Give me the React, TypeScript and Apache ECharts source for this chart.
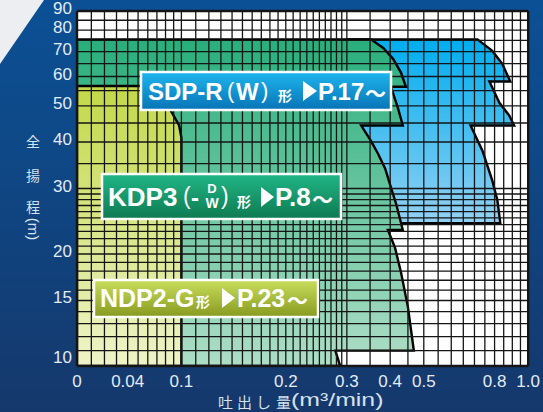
import React, { useEffect, useRef } from 'react';
import * as echarts from 'echarts';

// ---- axis ticks (labels) ----
const xTickValues = [0, 0.04, 0.1, 0.2, 0.3, 0.4, 0.5, 0.8, 1.0];
const xTickLabels = ['0', '0.04', '0.1', '0.2', '0.3', '0.4', '0.5', '0.8', '1.0'];
const yTickValues = [10, 15, 20, 30, 40, 50, 60, 70, 80, 90];

// ---- chart-paper grid lines ----
const xGridValues = [
  0, 0.01, 0.02, 0.03, 0.04, 0.05, 0.06, 0.07, 0.08, 0.09,
  0.1, 0.11, 0.12, 0.13, 0.14, 0.15, 0.16, 0.17, 0.18, 0.19,
  0.2, 0.21, 0.22, 0.23, 0.24, 0.25, 0.26, 0.27, 0.28, 0.29,
  0.3, 0.35, 0.4, 0.45, 0.5, 0.55, 0.6, 0.65, 0.7, 0.75, 0.8, 0.85, 0.9, 0.95, 1.0,
];
const yGridValues = [
  10, 11, 12, 13, 14, 15, 16, 17, 18, 19, 20, 21, 22, 23, 24, 25, 26, 27, 28, 29, 30,
  35, 40, 45, 50, 55, 60, 65, 70, 75, 80, 85, 90,
];

// ---- performance ranges (flow m3/min, head m) ----
const sdpFlow = [0.30, 0.714, 0.788, 0.842, 0.888, 0.773, 0.826, 0.882, 0.911, 0.682, 0.738, 0.788, 0.815, 0.831, 0.30];
const sdpHead = [75.5, 75.5, 70.3, 64.9, 58.2, 58.2, 51.0, 47.1, 44.3, 44.3, 37.9, 31.5, 27.9, 24.2, 24.2];

const kdpFlow = [0, 0.352, 0.382, 0.408, 0.430, 0.444, 0.402, 0.421, 0.435, 0.330, 0.352, 0.369, 0.387, 0.402, 0.416, 0.435, 0.394, 0.413, 0.430, 0.450, 0.468, 0.278, 0.287, 0];
const kdpHead = [75.5, 75.5, 71.6, 66.9, 61.4, 56.3, 56.3, 49.4, 44.3, 44.3, 40.3, 37.2, 33.9, 30.2, 27.3, 23.2, 23.2, 20.8, 17.8, 14.4, 11.0, 11.0, 10, 10];

const ndpFlow = [0, 0.067, 0.075, 0.085, 0.097, 0.1, 0.1, 0];
const ndpHead = [56.6, 56.6, 53.2, 49.2, 44.3, 41.1, 10, 10];

// ---- scale of the chart paper ----
function toX(q: number) {
  return q >= 0.1 ? Math.log10(q * 10) : Math.log10((q + 0.1) / 0.2);
}
function toY(h: number) {
  return Math.log10(h);
}
const X_MIN = toX(0);
const X_MAX = toX(1.0);
const Y_MIN = toY(10);
const Y_MAX = toY(90);

const regions = [
  { flow: sdpFlow, head: sdpHead, top: '#00ADEE', bottom: '#92D1F3' },
  { flow: kdpFlow, head: kdpHead, top: '#28AE7C', bottom: '#AEDEC6' },
  { flow: ndpFlow, head: ndpHead, top: '#C3D848', bottom: '#EFF4C8' },
];

const LATIN = '"Liberation Sans", Arial, "Noto Sans CJK JP", sans-serif';
const CJK = '"Noto Sans CJK JP", "Liberation Sans", sans-serif';

function grad(a: string, b: string) {
  return { type: 'linear', x: 0, y: 0, x2: 0, y2: 1, colorStops: [{ offset: 0, color: a }, { offset: 1, color: b }] };
}

function t(text: string, x: number, y: number, font: string, extra: any = {}) {
  return {
    type: 'text', x, y, z: 100, silent: true,
    style: { text, fill: '#ffffff', font, align: 'left', verticalAlign: 'middle', ...(extra.style || {}) },
    ...(extra.el || {}),
  };
}

function tri(x: number, cy: number, w: number, h: number) {
  return {
    type: 'polygon', z: 100, silent: true,
    shape: { points: [[x, cy - h / 2], [x + w, cy], [x, cy + h / 2]] },
    style: { fill: '#ffffff' },
  };
}

function box(x: number, y: number, w: number, h: number, a: string, b: string) {
  return {
    type: 'rect', z: 99, silent: true,
    shape: { x, y, width: w, height: h },
    style: { fill: grad(a, b), stroke: '#ffffff', lineWidth: 2.5 },
  };
}

const axisText = '#E3EBF5';
const titleText = '#D6E1EE';

const option: any = {
  animation: false,
  grid: { left: 77, right: 12, top: 10, bottom: 46, show: true, backgroundColor: '#ffffff', borderWidth: 0 },
  xAxis: {
    type: 'value', min: X_MIN, max: X_MAX,
    axisLine: { show: false }, axisTick: { show: false }, splitLine: { show: false },
    axisLabel: {
      customValues: xTickValues.map(toX),
      formatter: (v: number) => {
        let best = 0;
        for (let i = 0; i < xTickValues.length; i++) {
          if (Math.abs(toX(xTickValues[i]) - v) < Math.abs(toX(xTickValues[best]) - v)) best = i;
        }
        return xTickLabels[best];
      },
      color: axisText, fontSize: 17, fontFamily: LATIN, margin: 7,
    },
  },
  yAxis: {
    type: 'value', min: Y_MIN, max: Y_MAX,
    axisLine: { show: false }, axisTick: { show: false }, splitLine: { show: false },
    axisLabel: {
      customValues: yTickValues.map(toY),
      formatter: (v: number) => {
        const n = Math.round(Math.pow(10, v));
        return n === 10 ? '{lo|10}' : String(n);
      },
      rich: { lo: { fontSize: 17, fontFamily: LATIN, color: axisText, padding: [0, 0, 12, 0] } },
      color: axisText, fontSize: 17, fontFamily: LATIN, margin: 5, padding: [0, 0, 5, 0],
    },
  },
  series: [
    {
      type: 'custom', name: 'ranges', z: 2, silent: true, clip: true,
      data: regions.map(() => [X_MIN, Y_MIN]),
      renderItem: (params: any, api: any) => {
        const r = regions[params.dataIndex];
        const points = r.flow.map((q, i) => api.coord([toX(q), toY(r.head[i])]));
        return {
          type: 'polygon',
          shape: { points },
          style: { fill: grad(r.top, r.bottom), stroke: '#000000', lineWidth: 2.4, lineJoin: 'miter' },
        };
      },
    },
    {
      type: 'custom', name: 'paper', z: 3, silent: true,
      data: [
        ...xGridValues.map((v) => [toX(v), Y_MIN]),
        ...yGridValues.map((v) => [X_MIN, toY(v)]),
      ],
      renderItem: (params: any, api: any) => {
        const cs = params.coordSys;
        const i = params.dataIndex;
        if (i < xGridValues.length) {
          const v = xGridValues[i];
          const px = api.coord([toX(v), Y_MIN])[0];
          const edge = i === 0 || i === xGridValues.length - 1;
          return {
            type: 'line',
            shape: { x1: px, y1: cs.y, x2: px, y2: cs.y + cs.height },
            style: { stroke: '#151515', lineWidth: edge ? 2.4 : 1.3 },
          };
        }
        const j = i - xGridValues.length;
        const v = yGridValues[j];
        const py = api.coord([X_MIN, toY(v)])[1];
        const edge = j === 0 || j === yGridValues.length - 1;
        return {
          type: 'line',
          shape: { x1: cs.x, y1: py, x2: cs.x + cs.width, y2: py },
          style: { stroke: '#151515', lineWidth: edge ? 2.4 : 1.3 },
        };
      },
    },
  ],
  graphic: [
    // light corner
    { type: 'polygon', z: -10, silent: true, shape: { points: [[0, 0], [44, 0], [0, 64]] }, style: { fill: '#ECEEF1' } },

    // SDP-R box
    box(141, 72, 250, 38, '#1DB5EE', '#0874B6'),
    t('SDP-R', 148, 91, `bold 24px ${LATIN}`),
    t('(', 227, 90, `22px ${LATIN}`),
    t('W', 236, 91, `bold 24px ${LATIN}`),
    t(')', 261, 90, `22px ${LATIN}`),
    t('形', 278, 95, `bold 14px ${CJK}`),
    tri(303, 91, 14, 20),
    t('P.17', 318, 91, `bold 24px ${LATIN}`),
    t('〜', 365, 92, `bold 21px ${CJK}`),

    // KDP3 box
    box(102, 174, 239, 45, '#21B686', '#0E7A52'),
    t('KDP3', 108, 197, `bold 26px ${LATIN}`),
    t('(', 183, 196, `23px ${LATIN}`),
    t('-', 191, 197, `bold 24px ${LATIN}`),
    t('D', 212, 188, `bold 13px ${LATIN}`, { style: { align: 'center' } }),
    t('W', 212, 203, `bold 14px ${LATIN}`, { style: { align: 'center' } }),
    t(')', 221, 196, `23px ${LATIN}`),
    t('形', 237, 201, `bold 14px ${CJK}`),
    tri(261, 197, 13, 20),
    t('P.8', 275, 197, `bold 26px ${LATIN}`),
    t('〜', 312, 198, `bold 21px ${CJK}`),

    // NDP2-G box
    box(94, 280, 224, 37, '#C9DE5C', '#879A20'),
    t('NDP2-G', 100, 298, `bold 25px ${LATIN}`),
    t('形', 196, 301, `bold 14px ${CJK}`),
    tri(222, 298, 13, 20),
    t('P.23', 237, 298, `bold 25px ${LATIN}`),
    t('〜', 287, 299, `bold 21px ${CJK}`),

    // y axis title
    t('全', 33, 141, `14px ${CJK}`, { style: { align: 'center', fill: titleText } }),
    t('揚', 33, 175, `14px ${CJK}`, { style: { align: 'center', fill: titleText } }),
    t('程', 33, 206, `14px ${CJK}`, { style: { align: 'center', fill: titleText } }),
    t('(m)', 33, 229, `15px ${LATIN}`, { style: { align: 'center', fill: titleText }, el: { rotation: -Math.PI / 2 } }),

    // x axis title
    t('吐', 218, 401, `15px ${CJK}`, { style: { fill: titleText } }),
    t('出', 237, 401, `15px ${CJK}`, { style: { fill: titleText } }),
    t('し', 256, 401, `15px ${CJK}`, { style: { fill: titleText } }),
    t('量', 276, 401, `15px ${CJK}`, { style: { fill: titleText } }),
    t('(m³/min)', 291, 400, `18px ${LATIN}`, { style: { fill: titleText }, el: { scaleX: 1.38 } }),
  ],
};

export default function App() {
  const ref = useRef<HTMLDivElement>(null);
  useEffect(() => {
    document.body.style.margin = '0';
    const chart = echarts.init(ref.current as HTMLDivElement, null, { renderer: 'svg', width: 543, height: 412 });
    chart.setOption(option);
    return () => chart.dispose();
  }, []);
  return (
    <div
      ref={ref}
      style={{
        width: 543,
        height: 412,
        background: 'linear-gradient(180deg, #0B5095 0%, #0F4683 45%, #15386C 100%)',
      }}
    />
  );
}
